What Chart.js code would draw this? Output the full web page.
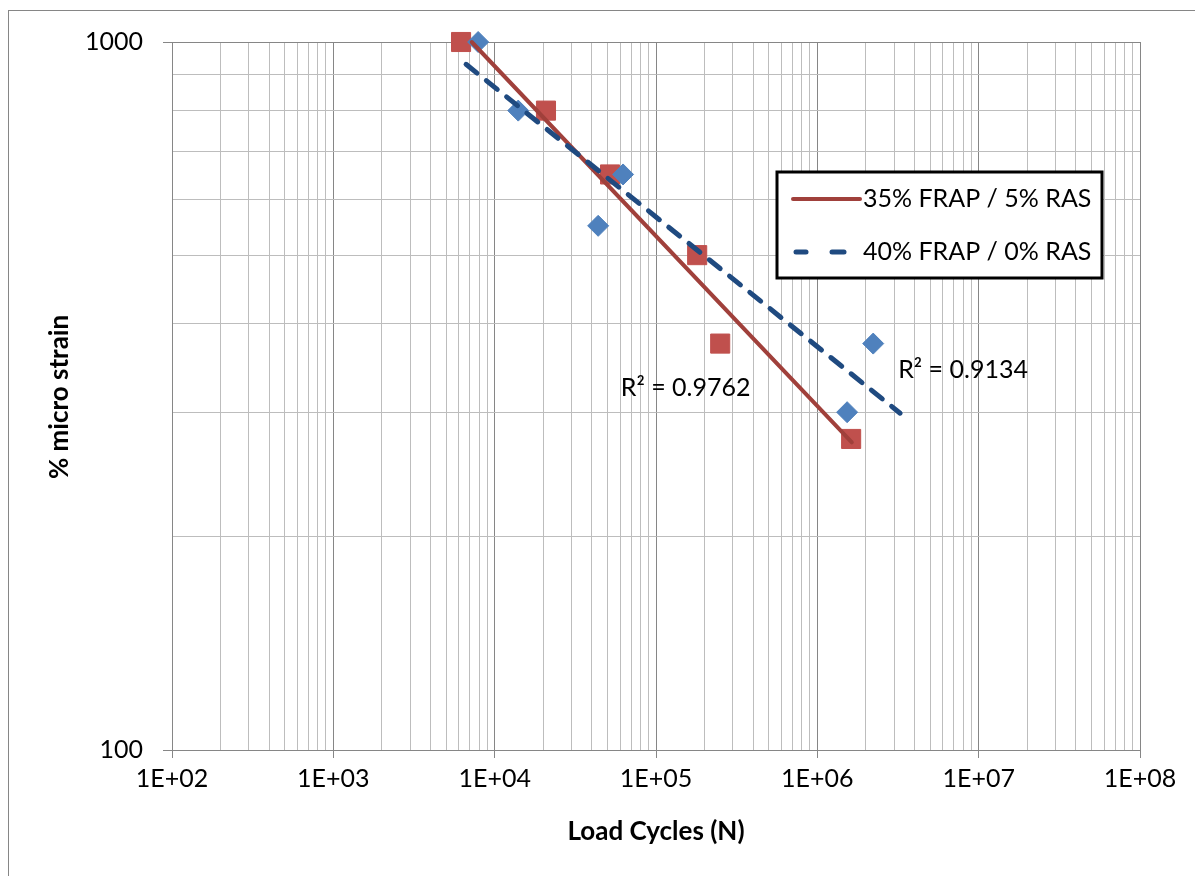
<!DOCTYPE html>
<html>
<head>
<meta charset="utf-8">
<script src="https://cdn.jsdelivr.net/npm/chart.js@4/dist/chart.umd.min.js"></script>
<style>
  html, body { margin: 0; padding: 0; background: #fff; }
  #wrap { width: 1195px; height: 876px; position: relative; }
</style>
</head>
<body>
<div id="wrap"><canvas id="fatigueChart" width="1195" height="876"></canvas></div>
<script>
// ---- data ----
const seriesNames    = ['35% FRAP / 5% RAS', '40% FRAP / 0% RAS'];

const frap35Cycles   = [6190, 20800, 51900, 180000, 250000, 1620000];
const frap35Strain   = [1000, 800, 650, 500, 375, 275];

const frap40Cycles   = [7900, 14000, 62500, 43800, 2220000, 1530000];
const frap40Strain   = [1000, 800, 650, 550, 375, 300];

// trendline end points (power fits, as drawn)
const trend35Cycles  = [7210, 1636000];
const trend35Strain  = [1000, 272];
const trend40Cycles  = [6650, 3260000];
const trend40Strain  = [930, 299];

const r2Labels       = ['R² = 0.9762', 'R² = 0.9134'];
const r2Cycles       = [60500, 3170000];
const r2Strain       = [325, 344];

const xTickLabels    = ['1E+02', '1E+03', '1E+04', '1E+05', '1E+06', '1E+07', '1E+08'];
const yTickLabels    = ['100', '1000'];

// ---- helpers ----
const RED       = '#C0504D';
const RED_LINE  = '#A0403B';
const BLUE      = '#4F81BD';
const BLUE_LINE = '#1F4A80';
const MAJOR     = '#868686';
const MINOR     = '#BDBDBD';

Chart.defaults.font.family = "'Lato', 'Open Sans', sans-serif";
Chart.defaults.color = '#000';

const isDecade = v => Math.abs(Math.log10(v) - Math.round(Math.log10(v))) < 1e-9;

function logTicks(minExp, maxExp) {
  const out = [];
  for (let e = minExp; e < maxExp; e++) {
    for (let m = 1; m <= 9; m++) out.push({ value: m * Math.pow(10, e) });
  }
  out.push({ value: Math.pow(10, maxExp) });
  return out;
}

const pts = (xs, ys) => xs.map((x, i) => ({ x, y: ys[i] }));

const overlay = {
  id: 'overlay',
  beforeDraw(chart) {
    const c = chart.ctx;
    c.save();
    c.fillStyle = '#fff';
    c.fillRect(0, 0, chart.width, chart.height);
    c.strokeStyle = MAJOR;
    c.lineWidth = 1;
    c.strokeRect(8.5, 10.5, chart.width + 10, chart.height + 10);
    c.restore();
  },
  afterDraw(chart) {
    const c = chart.ctx;
    const xs = chart.scales.x, ys = chart.scales.y;
    c.save();

    // R² labels
    c.fillStyle = '#000';
    c.font = "25px 'Lato', sans-serif";
    c.textBaseline = 'middle';
    c.textAlign = 'left';
    r2Labels.forEach((t, i) => {
      c.fillText(t, xs.getPixelForValue(r2Cycles[i]), ys.getPixelForValue(r2Strain[i]));
    });

    // axis titles
    c.font = "bold 26px 'Lato', sans-serif";
    c.textAlign = 'center';
    c.fillText('Load Cycles (N)', (chart.chartArea.left + chart.chartArea.right) / 2, 832);
    c.save();
    c.translate(60, 397);
    c.rotate(-Math.PI / 2);
    c.fillText('% micro strain', 0, 0);
    c.restore();

    // legend box
    const bx = 777, by = 172, bw = 325, bh = 106;
    c.fillStyle = '#fff';
    c.fillRect(bx, by, bw, bh);
    c.strokeStyle = '#000';
    c.lineWidth = 3;
    c.strokeRect(bx, by, bw, bh);

    c.lineCap = 'round';
    c.strokeStyle = RED_LINE;
    c.lineWidth = 4;
    c.beginPath(); c.moveTo(793, 199); c.lineTo(860, 199); c.stroke();

    c.strokeStyle = BLUE_LINE;
    c.lineWidth = 5;
    c.beginPath(); c.moveTo(796, 252); c.lineTo(806, 252); c.stroke();
    c.beginPath(); c.moveTo(832, 252); c.lineTo(844, 252); c.stroke();

    c.fillStyle = '#000';
    c.font = "25px 'Lato', sans-serif";
    c.textAlign = 'left';
    c.fillText(seriesNames[0], 863, 199);
    c.fillText(seriesNames[1], 863, 252);
    c.restore();
  }
};

new Chart(document.getElementById('fatigueChart'), {
  type: 'scatter',
  data: {
    datasets: [
      {
        label: seriesNames[1] + ' trend',
        data: pts(trend40Cycles, trend40Strain),
        showLine: true,
        borderColor: BLUE_LINE,
        borderWidth: 5,
        borderDash: [14, 12],
        borderCapStyle: 'round',
        pointRadius: 0,
        clip: false,
        order: 0
      },
      {
        label: seriesNames[0] + ' trend',
        data: pts(trend35Cycles, trend35Strain),
        showLine: true,
        borderColor: RED_LINE,
        borderWidth: 4,
        borderCapStyle: 'round',
        pointRadius: 0,
        clip: false,
        order: 1
      },
      {
        label: seriesNames[1],
        data: pts(frap40Cycles, frap40Strain),
        pointStyle: 'rectRot',
        pointRadius: 10.5,
        backgroundColor: BLUE,
        borderColor: BLUE,
        borderWidth: 1,
        clip: false,
        order: 2
      },
      {
        label: seriesNames[0],
        data: pts(frap35Cycles, frap35Strain),
        pointStyle: 'rect',
        pointRadius: 13.5,
        backgroundColor: RED,
        borderColor: RED,
        borderWidth: 1,
        clip: false,
        order: 3
      }
    ]
  },
  options: {
    responsive: false,
    animation: false,
    layout: { padding: { top: 42, right: 55, left: 0, bottom: 0 } },
    plugins: { legend: { display: false }, tooltip: { enabled: false } },
    scales: {
      x: {
        type: 'logarithmic',
        min: 100,
        max: 1e8,
        afterBuildTicks: s => { s.ticks = logTicks(2, 8); },
        afterFit: s => { s.height = 126; },
        border: { color: MAJOR, width: 1 },
        grid: {
          color: ctx => ctx.tick && isDecade(ctx.tick.value) ? MAJOR : MINOR,
          tickColor: ctx => ctx.tick && isDecade(ctx.tick.value) ? MAJOR : 'rgba(0,0,0,0)',
          tickLength: 8,
          lineWidth: 1
        },
        ticks: {
          autoSkip: false,
          maxRotation: 0,
          padding: 6,
          font: { size: 25 },
          color: '#000',
          callback: v => isDecade(v) ? xTickLabels[Math.round(Math.log10(v)) - 2] : ''
        }
      },
      y: {
        type: 'logarithmic',
        min: 100,
        max: 1000,
        afterBuildTicks: s => { s.ticks = logTicks(2, 3); },
        afterFit: s => { s.width = 172; },
        border: { color: MAJOR, width: 1 },
        grid: {
          color: ctx => ctx.tick && isDecade(ctx.tick.value) ? MAJOR : MINOR,
          tickColor: ctx => ctx.tick && isDecade(ctx.tick.value) ? MAJOR : 'rgba(0,0,0,0)',
          tickLength: 9,
          lineWidth: 1
        },
        ticks: {
          autoSkip: false,
          padding: 20,
          font: { size: 25 },
          color: '#000',
          callback: v => isDecade(v) ? yTickLabels[Math.round(Math.log10(v)) - 2] : ''
        }
      }
    }
  },
  plugins: [overlay]
});
</script>
</body>
</html>
